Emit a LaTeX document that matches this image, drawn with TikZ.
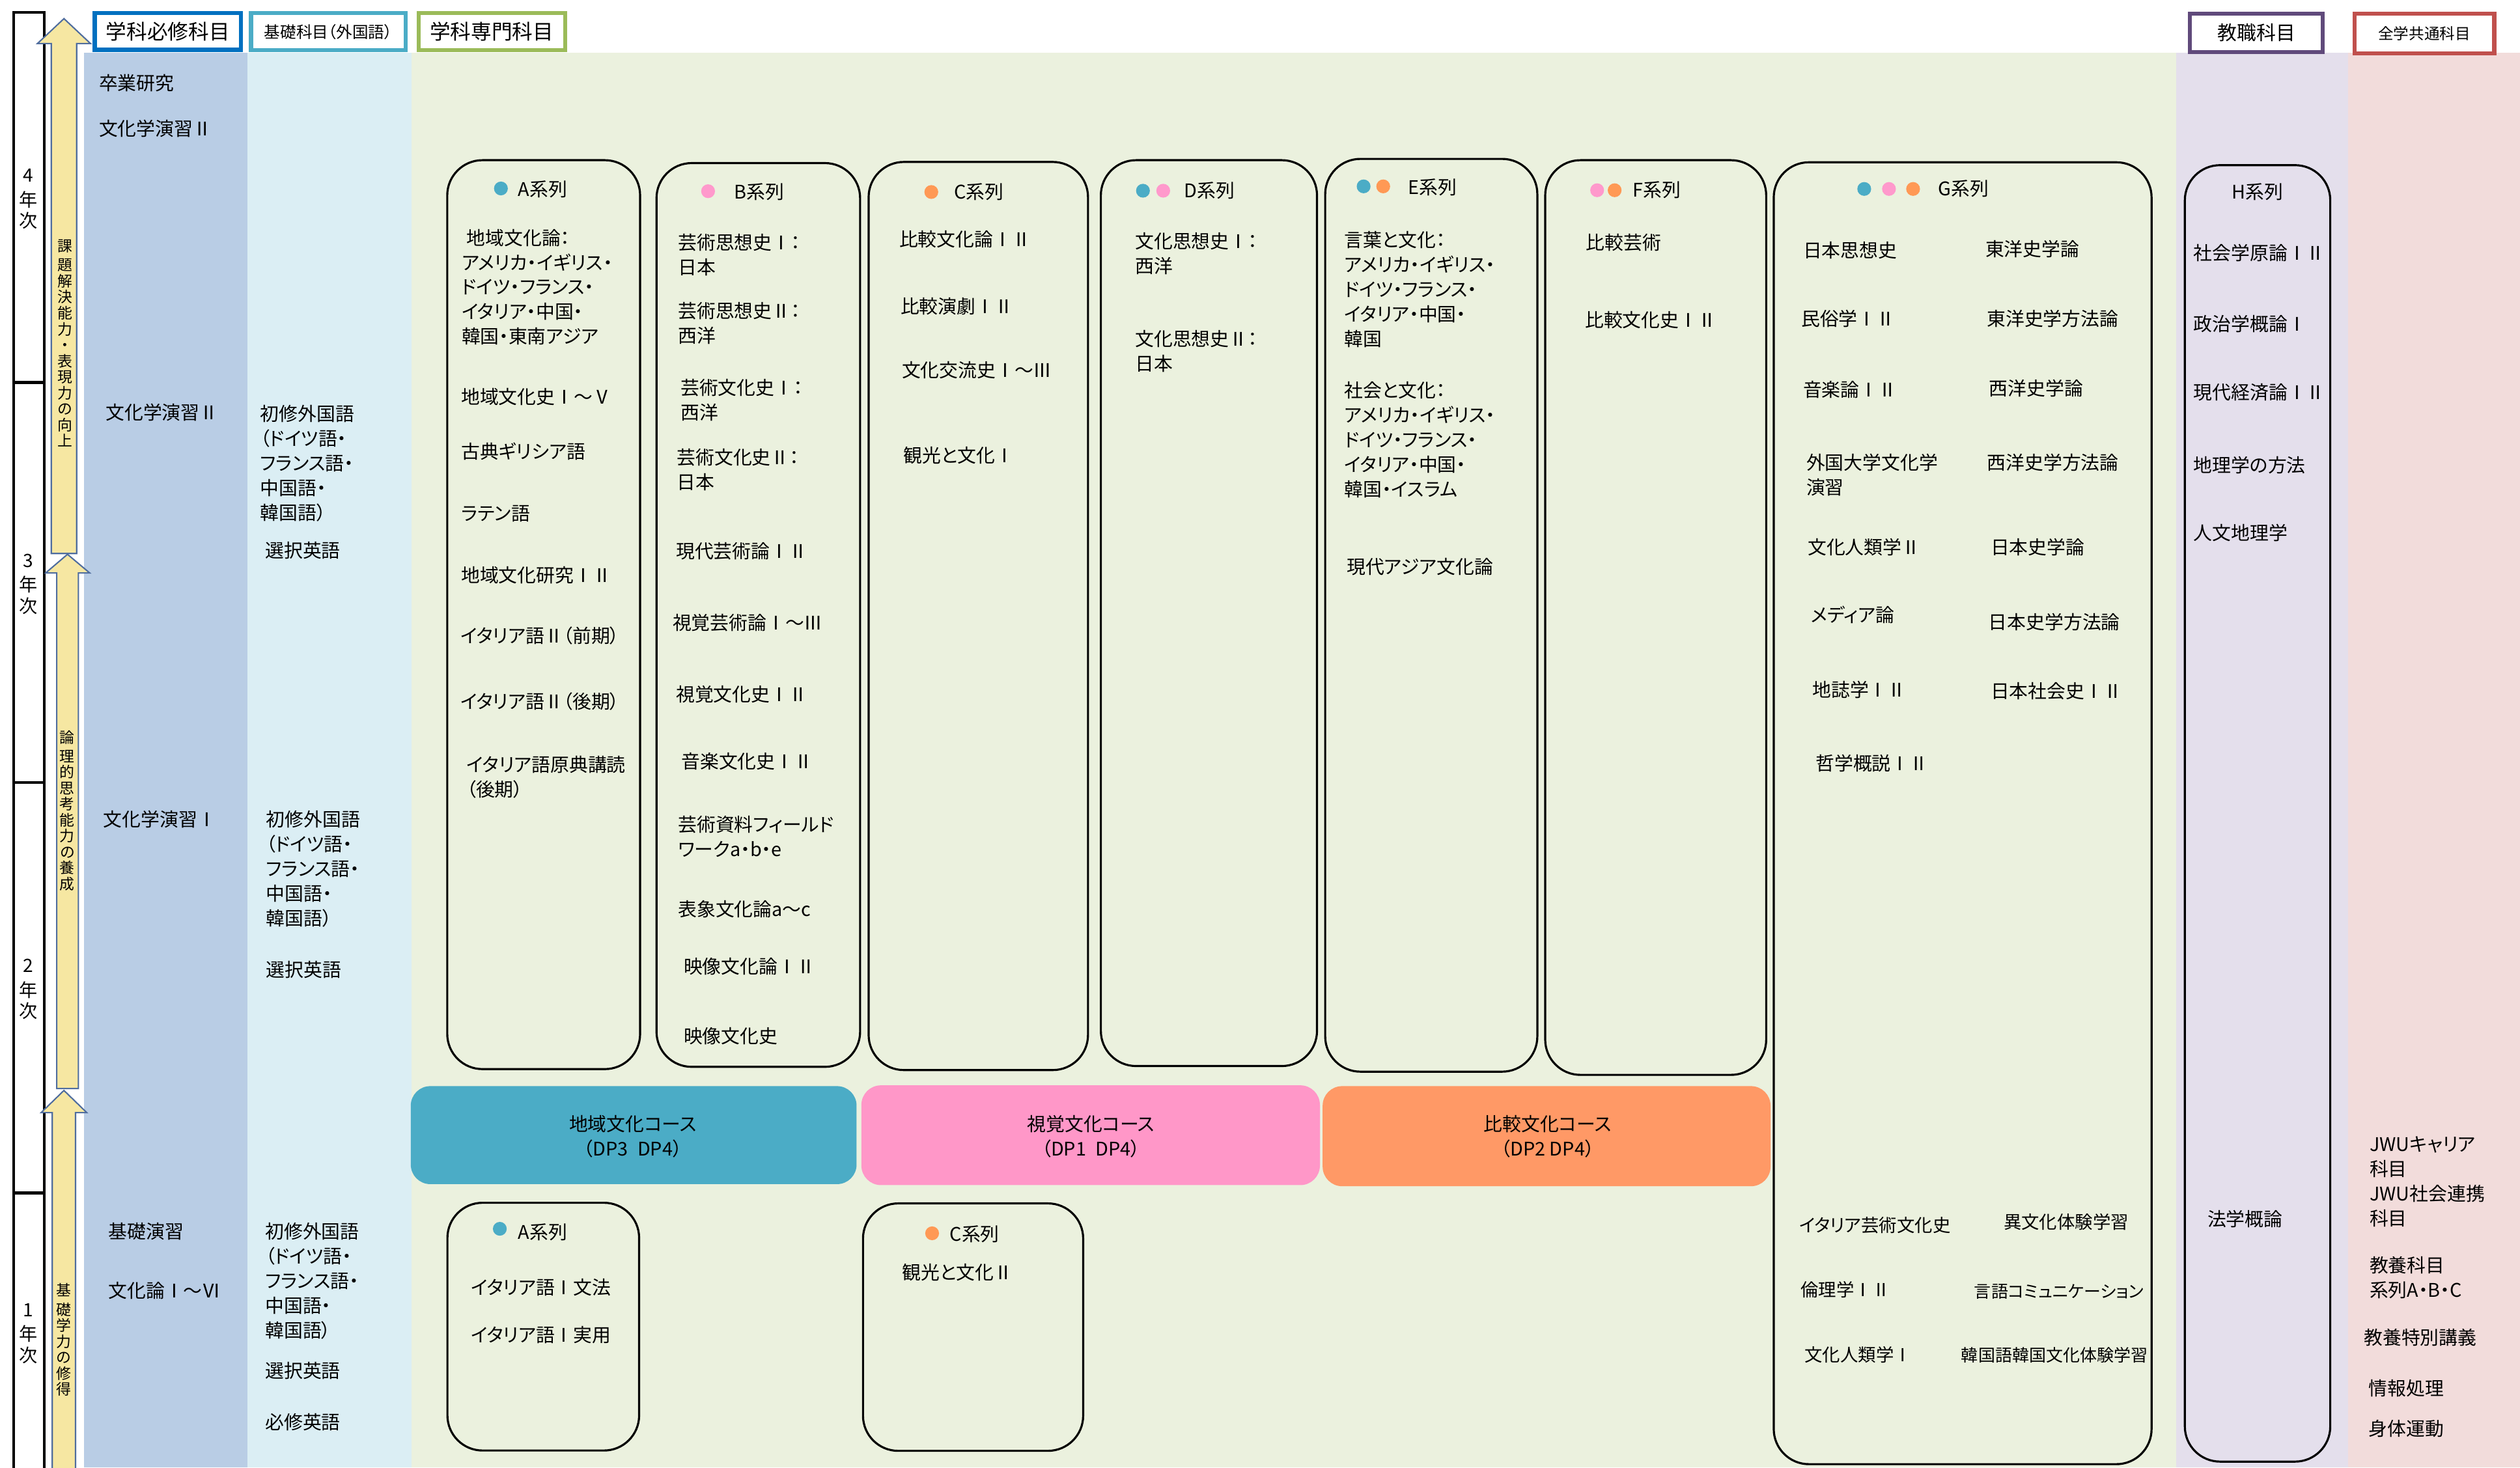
\documentclass[tikz,border=0pt]{standalone}
\usepackage{fontspec}
\setmainfont{Noto Sans CJK JP}[RawFeature={+palt}]
\newfontfamily\fwfont{Noto Sans CJK JP}
\newcommand{\rn}[1]{{\fwfont #1}}
\definecolor{colA}{HTML}{B9CDE5}
\definecolor{colB}{HTML}{DBEEF4}
\definecolor{colC}{HTML}{EBF1DE}
\definecolor{colD}{HTML}{E4DFEC}
\definecolor{colE}{HTML}{F2DCDB}
\definecolor{hdA}{HTML}{0070C0}
\definecolor{hdB}{HTML}{4BACC6}
\definecolor{hdC}{HTML}{9BBB59}
\definecolor{hdD}{HTML}{604A7B}
\definecolor{hdE}{HTML}{C0504D}
\definecolor{dotT}{HTML}{4BACC6}
\definecolor{dotP}{HTML}{FF99CC}
\definecolor{dotO}{HTML}{FF9955}
\definecolor{crsT}{HTML}{4BACC6}
\definecolor{crsP}{HTML}{FF97C8}
\definecolor{crsO}{HTML}{FF9966}
\definecolor{arrF}{HTML}{F6E7A2}
\definecolor{arrD}{HTML}{4F6D9E}
\newcommand{\fb}{\fontsize{8.2}{10.8}\selectfont}
\newcommand{\fsm}{\fontsize{7.8}{10}\selectfont}
\newcommand{\fxs}{\fontsize{7.4}{10}\selectfont}
\begin{document}
\begin{tikzpicture}[x=0.024681cm, y=-0.024681cm,
  every node/.style={inner sep=0pt, outer sep=0pt},
  lbl/.style={anchor=west, font=\fb},
  blk/.style={anchor=north west, align=left, font=\fb, yshift=0.156cm},
  yr/.style={anchor=north, align=center, font=\fontsize{8}{9.35}\selectfont, yshift=0.128cm},
  vt/.style={anchor=north, align=center, font=\fontsize{6.5}{6.98}\selectfont, yshift=0.085cm},
  hdr/.style={line width=1.8pt, fill=white},
  ser/.style={draw=black, line width=0.9pt, rounded corners=0.54cm},
  crs/.style={rounded corners=0.3cm},
  arr/.style={fill=arrF, draw=arrD, line width=0.6pt},
  yrline/.style={line width=1.2pt, draw=black},
  crstext/.style={font=\fb, anchor=center}]
\useasboundingbox (0,0) rectangle (1568.07,913.29);
\fill[white] (0,0) rectangle (1568.07,913.29);
% column backgrounds
\fill[colA] (52.4,33) rectangle (154,913.3);
\fill[colB] (154,33) rectangle (256,913.3);
\fill[colC] (256,33) rectangle (1354,913.3);
\fill[colD] (1354,33) rectangle (1461,913.3);
\fill[colE] (1461,33) rectangle (1568.07,913.3);
% year column
\draw[yrline] (8.5,914) -- (8.5,7.6) -- (27.5,7.6) -- (27.5,914);
\draw[yrline] (8.5,238) -- (27.5,238);
\draw[yrline] (8.5,487) -- (27.5,487);
\draw[yrline] (8.5,742.5) -- (27.5,742.5);
\node[yr] (y4) at (17.6,109.3) {\strut 4\\年\\次};
\node[yr] (y3) at (17.6,349) {\strut 3\\年\\次};
\node[yr] (y2) at (17.6,601.2) {\strut 2\\年\\次};
\node[yr] (y1) at (17.6,815.2) {\strut 1\\年\\次};
% arrows
\draw[arr] (39.8,11.6) -- (56.3,27.1) -- (47.7,27.1) -- (47.7,344.5) -- (31.9,344.5) -- (31.9,27.1) -- (23.3,27.1) -- cycle;
\draw[arr] (42,345) -- (55.8,356.6) -- (48.8,356.6) -- (48.8,677.5) -- (35.3,677.5) -- (35.3,356.6) -- (28.4,356.6) -- cycle;
\draw[arr] (39.8,678.7) -- (54,692.5) -- (47,692.5) -- (47,916) -- (32.5,916) -- (32.5,692.5) -- (25.6,692.5) -- cycle;
\node[vt] (v1) at (40.3,152.7) {\strut 課\\題\\解\\決\\能\\力\\・\\表\\現\\力\\の\\向\\上};
\node[vt] (v2) at (41.9,458) {\strut 論\\理\\的\\思\\考\\能\\力\\の\\養\\成};
\node[vt] (v3) at (39.6,802) {\strut 基\\礎\\学\\力\\の\\修\\得};
% header boxes
\draw[hdr, draw=hdA] (58.9,8.2) rectangle (150,31);
\node[font=\fontsize{9}{10}\selectfont] (h1) at (104.5,19.7) {学科必修科目};
\draw[hdr, draw=hdB] (156.2,8.2) rectangle (252.3,31.3);
\node[font=\fontsize{7}{8}\selectfont] (h2) at (204.3,19.8) {基礎科目（外国語）};
\draw[hdr, draw=hdC] (260.5,8.2) rectangle (351.7,31.3);
\node[font=\fontsize{9}{10}\selectfont] (h3) at (306,19.8) {学科専門科目};
\draw[hdr, draw=hdD] (1362.6,8.4) rectangle (1445.4,32.4);
\node[font=\fontsize{8.5}{10}\selectfont] (h4) at (1404,20.4) {教職科目};
\draw[hdr, draw=hdE] (1465,8.4) rectangle (1552.1,33.2);
\node[font=\fontsize{6.7}{8}\selectfont] (h5) at (1508.5,20.8) {全学共通科目};
% required column
\node[lbl] (r1) at (61.6,51.5) {卒業研究};
\node[lbl] (r2) at (61.6,80.2) {文化学演習\rn{Ⅱ}};
\node[lbl] (r3) at (65.8,256.7) {文化学演習\rn{Ⅱ}};
\node[lbl] (r4) at (64.4,510) {文化学演習\rn{Ⅰ}};
\node[lbl] (r5) at (67.5,766.6) {基礎演習};
\node[lbl] (r6) at (67.5,803.3) {文化論\rn{Ⅰ～Ⅵ}};
% language column
\node[blk] (k1) at (162,257.6) {\strut 初修外国語\\（ドイツ語・\\フランス語・\\中国語・\\韓国語）};
\node[lbl] (k2) at (165.1,342.6) {選択英語};
\node[blk] (k3) at (165.6,510) {\strut 初修外国語\\（ドイツ語・\\フランス語・\\中国語・\\韓国語）};
\node[lbl] (k4) at (165.6,603.6) {選択英語};
\node[blk] (k5) at (165.1,766.6) {\strut 初修外国語\\（ドイツ語・\\フランス語・\\中国語・\\韓国語）};
\node[lbl] (k6) at (165.1,853.3) {選択英語};
\node[lbl] (k7) at (165.1,885.3) {必修英語};
% series boxes (top row)
\draw[ser] (278.3,99.7) rectangle (398.3,665.4);
\draw[ser] (408.5,101.5) rectangle (535.2,664);
\draw[ser] (540.5,100.8) rectangle (677,666);
\draw[ser] (685,99.7) rectangle (819.5,663.5);
\draw[ser] (824.6,98.9) rectangle (956.6,667);
\draw[ser] (961.5,99.7) rectangle (1099,669);
\draw[ser] (1103.7,101) rectangle (1338.8,911.3);
\draw[ser] (1359.5,102.8) rectangle (1450,909.7);
% course bars
\fill[crsT, crs] (255.6,676) rectangle (533,737);
\fill[crsP, crs] (536,675.5) rectangle (821.3,737.6);
\fill[crsO, crs] (823,676) rectangle (1101.7,738.3);
\node[crstext] (c1) at (393.8,699.5) {地域文化コース};
\node[crstext] (c1b) at (393.8,715) {（DP3\enspace DP4）};
\node[crstext] (c2) at (678.8,699.5) {視覚文化コース};
\node[crstext] (c2b) at (678.8,715) {（DP1\enspace DP4）};
\node[crstext] (c3) at (963,699.5) {比較文化コース};
\node[crstext] (c3b) at (963,715) {（DP2 DP4）};
% bottom series boxes
\draw[ser] (278.4,748.6) rectangle (397.7,902.8);
\draw[ser] (537,749) rectangle (674,903);
% A
\fill[dotT] (311.7,117.3) circle [radius=4.3];
\node[lbl] (a0) at (322.5,118) {A系列};
\node[lbl] (a1) at (290.5,148) {地域文化論：};
\node[blk] (a1b) at (287.3,163.3) {\strut アメリカ・イギリス・\\ドイツ・フランス・\\イタリア・中国・\\韓国・東南アジア};
\node[lbl] (a2) at (287,246.9) {地域文化史\rn{Ⅰ～Ⅴ}};
\node[lbl] (a3) at (287,281) {古典ギリシア語};
\node[lbl] (a4) at (287,319.6) {ラテン語};
\node[lbl] (a5) at (287,358.2) {地域文化研究\rn{ⅠⅡ}};
\node[lbl] (a6) at (286.6,395.6) {イタリア語\rn{Ⅱ}（前期）};
\node[lbl] (a7) at (286.6,436.5) {イタリア語\rn{Ⅱ}（後期）};
\node[blk] (a8) at (290.4,476) {\strut イタリア語原典講読\\（後期）};
% B
\fill[dotP] (440.6,119) circle [radius=4.3];
\node[lbl] (b0) at (456.8,119.5) {B系列};
\node[blk] (b1) at (422,151) {\strut 芸術思想史\rn{Ⅰ}：\\日本};
\node[blk] (b2) at (422,193.3) {\strut 芸術思想史\rn{Ⅱ}：\\西洋};
\node[blk] (b3) at (423.5,241.2) {\strut 芸術文化史\rn{Ⅰ}：\\西洋};
\node[blk] (b4) at (421.2,284.7) {\strut 芸術文化史\rn{Ⅱ}：\\日本};
\node[lbl] (b5) at (420.7,343.2) {現代芸術論\rn{ⅠⅡ}};
\node[lbl] (b6) at (418.6,387.8) {視覚芸術論\rn{Ⅰ～Ⅲ}};
\node[lbl] (b7) at (420.7,432) {視覚文化史\rn{ⅠⅡ}};
\node[lbl] (b8) at (424,474) {音楽文化史\rn{ⅠⅡ}};
\node[blk] (b9) at (422,513.3) {\strut 芸術資料フィールド\\ワークa・b・e};
\node[lbl] (b10) at (422,566) {表象文化論a\rn{～}c};
\node[lbl] (b11) at (425.5,601.7) {映像文化論\rn{ⅠⅡ}};
\node[lbl] (b12) at (425.5,645) {映像文化史};
% C
\fill[dotO] (579.5,119.5) circle [radius=4.3];
\node[lbl] (cc0) at (593.8,119.5) {C系列};
\node[lbl] (cc1) at (559.6,149) {比較文化論\rn{ⅠⅡ}};
\node[lbl] (cc2) at (560.4,190.7) {比較演劇\rn{ⅠⅡ}};
\node[lbl] (cc3) at (561.2,230.4) {文化交流史\rn{Ⅰ～Ⅲ}};
\node[lbl] (cc4) at (562.3,283.6) {観光と文化\rn{Ⅰ}};
% D
\fill[dotT] (711.2,118.7) circle [radius=4.3];
\fill[dotP] (723.8,118.7) circle [radius=4.3];
\node[lbl] (d0) at (737,118.7) {D系列};
\node[blk] (d1) at (706.4,150.2) {\strut 文化思想史\rn{Ⅰ}：\\西洋};
\node[blk] (d2) at (706.4,211) {\strut 文化思想史\rn{Ⅱ}：\\日本};
% E
\fill[dotT] (848.5,116) circle [radius=4.3];
\fill[dotO] (860.7,116) circle [radius=4.3];
\node[lbl] (e0) at (876.4,116.5) {E系列};
\node[blk] (e1) at (836.6,149.5) {\strut 言葉と文化：\\アメリカ・イギリス・\\ドイツ・フランス・\\イタリア・中国・\\韓国};
\node[blk] (e2) at (836.6,242.8) {\strut 社会と文化：\\アメリカ・イギリス・\\ドイツ・フランス・\\イタリア・中国・\\韓国・イスラム};
\node[lbl] (e3) at (838,352.6) {現代アジア文化論};
% F
\fill[dotP] (993.8,118.4) circle [radius=4.3];
\fill[dotO] (1004.7,118.4) circle [radius=4.3];
\node[lbl] (f0) at (1016,118.4) {F系列};
\node[lbl] (f1) at (986.9,151) {比較芸術};
\node[lbl] (f2) at (986.3,199) {比較文化史\rn{ⅠⅡ}};
% G
\fill[dotT] (1160,117.6) circle [radius=4.3];
\fill[dotP] (1175.4,117.6) circle [radius=4.3];
\fill[dotO] (1190.4,117.6) circle [radius=4.3];
\node[lbl] (g0) at (1206,117.6) {G系列};
\node[lbl] (g1) at (1122,156) {日本思想史};
\node[lbl] (g2) at (1120.8,198.5) {民俗学\rn{ⅠⅡ}};
\node[lbl] (g3) at (1122,242.6) {音楽論\rn{ⅠⅡ}};
\node[blk] (g4) at (1124,288) {\strut 外国大学文化学\\演習};
\node[lbl] (g5) at (1124.9,340.7) {文化人類学\rn{Ⅱ}};
\node[lbl] (g6) at (1127,382.8) {メディア論};
\node[lbl] (g7) at (1127.8,429.4) {地誌学\rn{ⅠⅡ}};
\node[lbl] (g8) at (1129.8,475) {哲学概説\rn{ⅠⅡ}};
\node[lbl] (g9) at (1235.4,155) {東洋史学論};
\node[lbl] (g10) at (1236.4,198.5) {東洋史学方法論};
\node[lbl] (g11) at (1237.8,241.8) {西洋史学論};
\node[lbl] (g12) at (1236.5,288) {西洋史学方法論};
\node[lbl] (g13) at (1238.7,340.7) {日本史学論};
\node[lbl] (g14) at (1237.4,387) {日本史学方法論};
\node[lbl] (g15) at (1238.7,430) {日本社会史\rn{ⅠⅡ}};
\node[lbl, font=\fsm] (g16) at (1119.7,762.7) {イタリア芸術文化史};
\node[lbl, font=\fsm] (g17) at (1246.8,760.5) {異文化体験学習};
\node[lbl, font=\fsm] (g18) at (1120.5,802.8) {倫理学\rn{ⅠⅡ}};
\node[lbl, font=\fxs] (g19) at (1228.5,804) {言語コミュニケーション};
\node[lbl, font=\fsm] (g20) at (1122.9,843) {文化人類学\rn{Ⅰ}};
\node[lbl, font=\fxs] (g21) at (1220.4,843.6) {韓国語韓国文化体験学習};
% H
\node[font=\fb] (hh0) at (1404.7,119.4) {H系列};
\node[lbl] (hh1) at (1365,157.6) {社会学原論\rn{ⅠⅡ}};
\node[lbl] (hh2) at (1365,201.5) {政治学概論\rn{Ⅰ}};
\node[lbl] (hh3) at (1365,244.2) {現代経済論\rn{ⅠⅡ}};
\node[lbl] (hh4) at (1365,289.4) {地理学の方法};
\node[lbl] (hh5) at (1365,331.5) {人文地理学};
\node[lbl] (hh6) at (1373.6,758.5) {法学概論};
% common
\node[blk] (p1) at (1474.5,712) {\strut JWUキャリア\\科目\\JWU社会連携\\科目};
\node[blk] (p2) at (1474.5,787.6) {\strut 教養科目\\系列A・B・C};
\node[lbl] (p3) at (1471,832.4) {教養特別講義};
\node[lbl] (p4) at (1474,864) {情報処理};
\node[lbl] (p5) at (1474,889) {身体運動};
% bottom A and C
\fill[dotT] (311,764.8) circle [radius=4.3];
\node[lbl] (ba0) at (322.5,766.8) {A系列};
\node[lbl] (ba1) at (293,801.3) {イタリア語\rn{Ⅰ}文法};
\node[lbl] (ba2) at (293,830.7) {イタリア語\rn{Ⅰ}実用};
\fill[dotO] (580,767.6) circle [radius=4.3];
\node[lbl] (bc0) at (591,768) {C系列};
\node[lbl] (bc1) at (561.5,792) {観光と文化\rn{Ⅱ}};
\end{tikzpicture}
\end{document}
